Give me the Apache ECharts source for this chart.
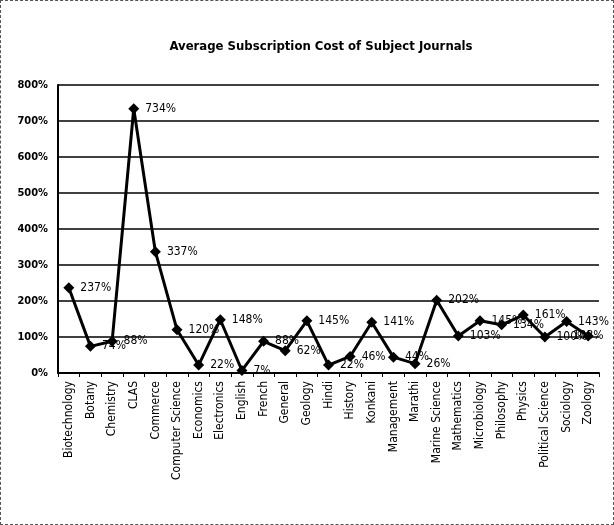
<!DOCTYPE html>
<html>
<head>
<meta charset="utf-8">
<script src="https://cdn.jsdelivr.net/npm/echarts@6/dist/echarts.min.js"></script>
<style>
  html, body { margin: 0; padding: 0; background: #fff; }
  #chart { width: 614px; height: 525px; box-sizing: border-box; border: 1px dashed #555; }
</style>
</head>
<body>
<div id="chart"></div>
<script>
const subjects = ['Biotechnology', 'Botany', 'Chemistry', 'CLAS', 'Commerce', 'Computer Science',
  'Economics', 'Electronics', 'English', 'French', 'General', 'Geology', 'Hindi', 'History',
  'Konkani', 'Management', 'Marathi', 'Marine Science', 'Mathematics', 'Microbiology',
  'Philosophy', 'Physics', 'Political Science', 'Sociology', 'Zoology']
const avgCost = [237, 74, 88, 734, 337, 120, 22, 148, 7, 88, 62, 145, 22, 46, 141, 44, 26, 202,
  103, 145, 134, 161, 100, 143, 103]
const yTicks = [0, 100, 200, 300, 400, 500, 600, 700, 800]

const font = '"Liberation Sans Narrow", "DejaVu Sans Condensed", Arial, sans-serif'
const chart = echarts.init(document.getElementById('chart'))

// last label would run off the edge, keep it centred on its point
const seriesData = avgCost.map((v, i) => i === avgCost.length - 1
  ? { value: v, label: { position: 'inside', offset: [0, 0] } }
  : v)

chart.setOption({
  animation: false,
  textStyle: { fontFamily: font },
  title: {
    text: 'Average Subscription Cost of Subject Journals',
    left: 315,
    textAlign: 'center',
    top: 34,
    textStyle: { fontSize: 13, fontWeight: 'bold', color: '#000', fontFamily: font }
  },
  grid: { left: 57, right: 14, top: 84, bottom: 151 },
  xAxis: {
    type: 'category',
    data: subjects,
    boundaryGap: true,
    axisLine: { lineStyle: { color: '#000', width: 2 } },
    axisTick: { show: true, lineStyle: { color: '#000' }, length: 4 },
    axisLabel: { rotate: 90, interval: 0, color: '#000', fontSize: 12, fontFamily: font, margin: 8 }
  },
  yAxis: {
    type: 'value',
    min: yTicks[0],
    max: yTicks[yTicks.length - 1],
    interval: 100,
    axisLine: { show: true, lineStyle: { color: '#000', width: 2 } },
    axisTick: { show: false },
    axisLabel: { formatter: '{value}%', color: '#000', fontSize: 11, fontWeight: 'bold', fontFamily: font, margin: 10 },
    splitLine: { lineStyle: { color: '#000', width: 1.5 } }
  },
  series: [{
    type: 'line',
    data: seriesData,
    symbol: 'diamond',
    symbolSize: 11,
    lineStyle: { color: '#000', width: 3 },
    itemStyle: { color: '#000' },
    label: {
      show: true,
      position: 'right',
      distance: 6,
      formatter: '{c}%',
      color: '#000',
      fontSize: 12,
      fontFamily: font
    }
  }]
})
</script>
</body>
</html>
